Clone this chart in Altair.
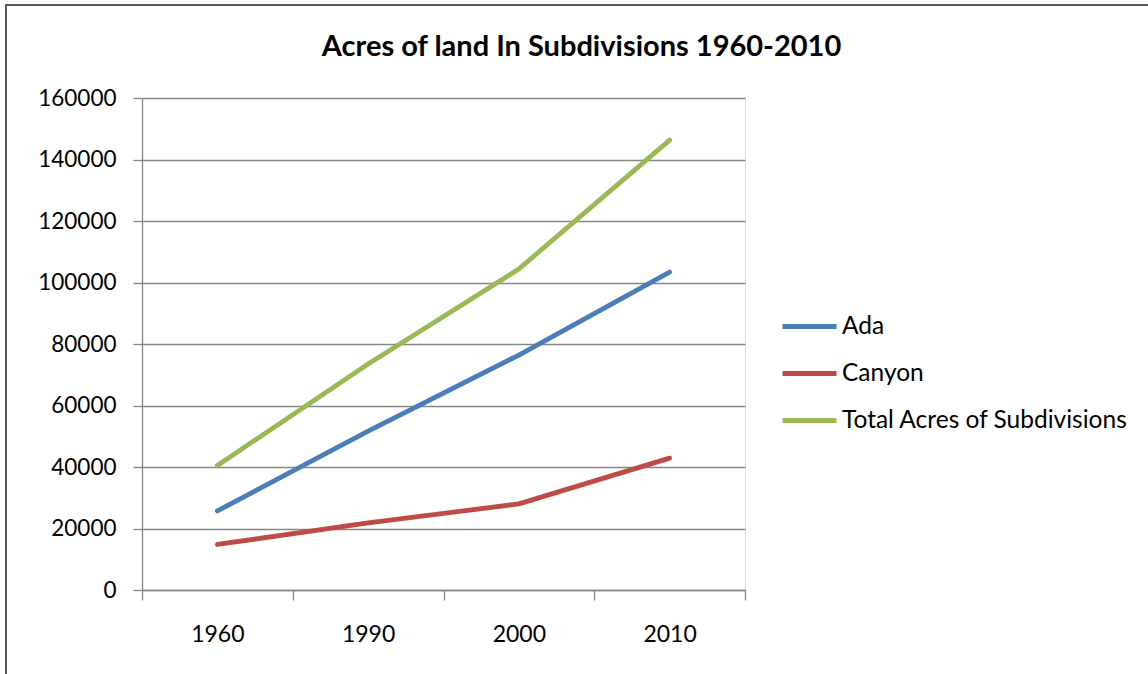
import altair as alt
import pandas as pd

years = ["1960", "1990", "2000", "2010"]
series_names = ["Ada", "Canyon", "Total Acres of Subdivisions"]
ada = [25700, 51700, 76400, 103400]
canyon = [14800, 21800, 28000, 42900]
total = [40500, 73500, 104400, 146300]
colors = ["#4A7EBB", "#BE4B48", "#98B954"]

rows = []
for name, vals in zip(series_names, [ada, canyon, total]):
    for i, (yr, v) in enumerate(zip(years, vals)):
        rows.append({"Series": name, "Year": yr, "pos": i + 0.5, "Acres": v})
df = pd.DataFrame(rows)

FONT = "Lato"
GRID = "#868686"

year_expr = "[" + ",".join("'" + y + "'" for y in years) + "]"
label_expr = "datum.value % 1 == 0.5 ? " + year_expr + "[floor(datum.value)] : ''"

lines = alt.Chart(df).mark_line(strokeWidth=4.8, strokeCap="round", strokeJoin="round").encode(
    x=alt.X(
        "pos:Q",
        scale=alt.Scale(domain=[0, len(years)], nice=False, zero=False),
        axis=alt.Axis(
            title=None,
            values=[k * 0.5 for k in range(2 * len(years) + 1)],
            labelExpr=label_expr,
            labelOverlap=False,
            tickOpacity={"condition": {"test": "datum.value % 1 != 0", "value": 0}, "value": 1},
            tickSize=10,
            tickColor=GRID,
            tickWidth=1.3,
            domainColor=GRID,
            domainWidth=1.3,
            grid=False,
            labelFont=FONT,
            labelFontSize=23,
            labelColor="#000000",
            labelPadding=23,
        ),
    ),
    y=alt.Y(
        "Acres:Q",
        scale=alt.Scale(domain=[0, 160000], nice=False),
        axis=alt.Axis(
            title=None,
            values=list(range(0, 160001, 20000)),
            format="d",
            grid=True,
            gridColor=GRID,
            gridWidth=1.3,
            tickSize=9,
            tickColor=GRID,
            tickWidth=1.3,
            domainColor=GRID,
            domainWidth=1.3,
            labelFont=FONT,
            labelFontSize=22.5,
            labelColor="#000000",
            labelPadding=17,
        ),
    ),
    color=alt.Color(
        "Series:N",
        scale=alt.Scale(domain=series_names, range=colors),
        sort=series_names,
        legend=alt.Legend(
            title=None,
            orient="none",
            legendX=638,
            legendY=199,
            symbolType="stroke",
            symbolSize=2916,
            symbolStrokeWidth=4.8,
            labelFont=FONT,
            labelFontSize=24.5,
            labelColor="#000000",
            labelOffset=3,
            labelLimit=500,
            rowPadding=6,
        ),
    ),
)

border_left = alt.Chart(df).mark_rule(color="#595959", strokeWidth=2).encode(
    x=alt.value(-136), y=alt.value(-93), y2=alt.value(600)
)
border_top = alt.Chart(df).mark_rule(color="#595959", strokeWidth=2).encode(
    x=alt.value(-137), x2=alt.value(1020), y=alt.value(-93)
)

chart = alt.layer(lines, border_left, border_top).properties(
    width=603,
    height=492,
    title=alt.TitleParams(
        "Acres of land In Subdivisions 1960-2010",
        font=FONT,
        fontSize=29,
        fontWeight="bold",
        color="#000000",
        anchor="middle",
        dx=138,
        offset=-58,
    ),
    autosize=alt.AutoSizeParams(type="none"),
    padding={"left": 142, "top": 98, "right": 403, "bottom": 84},
).configure_view(stroke=None).configure(background="#ffffff")

chart.save("out.html", embed_options={"renderer": "svg", "actions": False})
